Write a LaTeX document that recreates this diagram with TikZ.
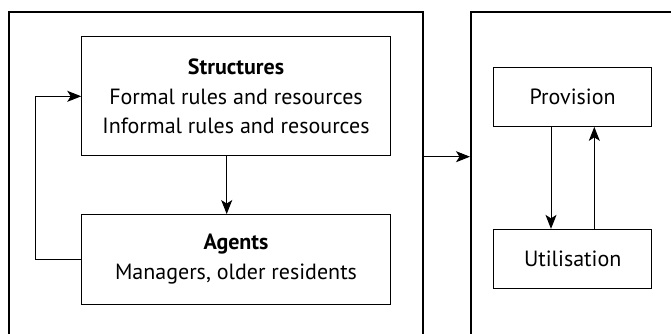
\documentclass[tikz,border=0pt]{standalone}
\usepackage{fontspec}
\setmainfont{PT Sans}
\usetikzlibrary{arrows.meta}
\begin{document}
\begin{tikzpicture}[x=1pt,y=-1pt,
  outer/.style={draw, line width=2pt, minimum width=#1, inner sep=0pt},
  box/.style={draw, line width=1pt, align=center, inner sep=0pt, font=\fontsize{22}{29.5}\selectfont},
  arr/.style={line width=1pt, -{Stealth[length=14pt,width=11pt,inset=3.5pt]}}]
\useasboundingbox (0,0) rectangle (671,333);
\clip (0,0) rectangle (671,333);
\node[outer=413.5pt, minimum height=340pt] (L) at (216.2,181.7) {};
\node[outer=219pt, minimum height=340pt] (R) at (580.5,182) {};
\node[box, minimum width=308.5pt, minimum height=119.3pt] (S) at (236,96.3)
  {\textbf{Structures}\\Formal rules and resources\\Informal rules and resources};
\node[box, minimum width=308.5pt, minimum height=89.5pt] (A) at (236,259.3)
  {\textbf{Agents}\\Managers, older residents};
\node[box, minimum width=158pt, minimum height=59.3pt] (P) at (572.7,96.7) {Provision};
\node[box, minimum width=158pt, minimum height=59.3pt] (U) at (572.7,259) {Utilisation};
\coordinate (m) at (0,156.7);
\draw[arr] (L.east |- m) -- (R.west |- m);
\draw[arr] ([xshift=-9.3pt]S.south) -- ([xshift=-9.3pt]A.north);
\draw[arr] (A.west) -- ++(-45.7,0) |- (S.west);
\draw[arr] ([xshift=-21.7pt]P.south) -- ([xshift=-21.7pt]U.north);
\draw[arr] ([xshift=21.6pt]U.north) -- ([xshift=21.6pt]P.south);
\end{tikzpicture}
\end{document}
